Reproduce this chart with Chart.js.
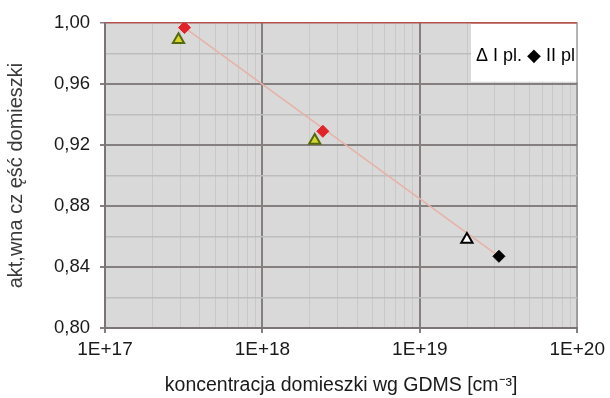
<!DOCTYPE html>
<html>
<head>
<meta charset="utf-8">
<script src="https://cdn.jsdelivr.net/npm/chart.js@4.4.1/dist/chart.umd.min.js"></script>
<style>
  html, body { margin: 0; padding: 0; background: #ffffff; }
  #wrap { width: 610px; height: 398px; }
</style>
</head>
<body>
<div id="wrap"><canvas id="c" width="610" height="398"></canvas></div>
<script>
// Series names (shown in the legend box)
const seriesNames = ['I pl.', 'II pl'];

// Dopant concentration [cm^-3] and active fraction, series I
const concI = [2.93e17, 2.15e18, 1.99e19];
const fracI = [0.989, 0.923, 0.858];

// Dopant concentration [cm^-3] and active fraction, series II
const concII = [3.2e17, 2.42e18, 3.18e19];
const fracII = [0.997, 0.929, 0.847];

// Trend line end points
const trendConc = [3.2e17, 3.18e19];
const trendFrac = [0.997, 0.847];

// Axis ticks
const decadeExps = [17, 18, 19, 20];
const decadeLabels = ['1E+17', '1E+18', '1E+19', '1E+20'];
const yTickValues = [0.80, 0.82, 0.84, 0.86, 0.88, 0.90, 0.92, 0.94, 0.96, 0.98, 1.00];
const yLabelValues = [0.80, 0.84, 0.88, 0.92, 0.96, 1.00];

const xTitle = 'koncentracja domieszki wg GDMS [cm\u207B\u00B3]';
const yTitle = 'akt,wna cz ęść domieszki';

// point styling
const triFill = ['#d6d62a', '#d6d62a', '#ffffff'];
const triEdge = ['#55690f', '#55690f', '#000000'];
const diaColor = ['#e2232a', '#e2232a', '#000000'];

const FONT = "'Liberation Sans', Arial, sans-serif";

const toPts = (xs, ys) => xs.map((x, i) => ({ x: x, y: ys[i] }));

// x tick values: 1..9 x 10^n for each decade, plus the last decade
const xTickValues = [];
decadeExps.forEach((e, i) => {
  if (i < decadeExps.length - 1) {
    for (let m = 1; m <= 9; m++) xTickValues.push(m * Math.pow(10, e));
  } else {
    xTickValues.push(Math.pow(10, e));
  }
});

const isDecade = v => {
  const l = Math.log10(v);
  return Math.abs(l - Math.round(l)) < 1e-6;
};
const decadeLabel = v => {
  if (!isDecade(v)) return '';
  const idx = decadeExps.indexOf(Math.round(Math.log10(v)));
  return idx >= 0 ? decadeLabels[idx] : '';
};
const isYLabel = v => yLabelValues.some(t => Math.abs(t - v) < 1e-6);

const plotBg = {
  id: 'plotBg',
  beforeDraw(chart) {
    const { ctx, chartArea: a } = chart;
    ctx.save();
    ctx.fillStyle = '#d9d9d9';
    ctx.fillRect(a.left, a.top, a.right - a.left, a.bottom - a.top);
    ctx.restore();
  },
  beforeDatasetsDraw(chart) {
    const { ctx, chartArea: a } = chart;
    const yBox = chart.scales.y.getPixelForValue(0.9615);
    const xBox = 471;
    ctx.save();
    ctx.fillStyle = '#ffffff';
    ctx.fillRect(xBox, a.top, a.right - xBox, yBox - a.top);
    // top edge line and right edge line over the box
    ctx.strokeStyle = '#b4534d';
    ctx.lineWidth = 1.5;
    ctx.beginPath();
    ctx.moveTo(xBox, a.top);
    ctx.lineTo(a.right, a.top);
    ctx.stroke();
    ctx.strokeStyle = '#a09c9c';
    ctx.lineWidth = 1;
    ctx.beginPath();
    ctx.moveTo(a.right - 0.5, a.top);
    ctx.lineTo(a.right - 0.5, yBox);
    ctx.stroke();
    // legend text
    ctx.fillStyle = '#000000';
    ctx.font = '18px ' + FONT;
    ctx.textBaseline = 'middle';
    ctx.textAlign = 'left';
    const txt = '\u0394 ' + seriesNames[0] + ' \u25C6 ' + seriesNames[1];
    ctx.fillText(txt, 476, 56, 102);
    ctx.restore();
  }
};

new Chart(document.getElementById('c'), {
  type: 'scatter',
  data: {
    datasets: [
      {
        label: seriesNames[0],
        data: toPts(concI, fracI),
        pointStyle: 'triangle',
        pointRadius: 6.5,
        pointBorderWidth: 2,
        backgroundColor: triFill,
        borderColor: triEdge,
        order: 1
      },
      {
        label: seriesNames[1],
        data: toPts(concII, fracII),
        pointStyle: 'rectRot',
        pointRadius: 6,
        pointBorderWidth: 1,
        backgroundColor: diaColor,
        borderColor: diaColor,
        order: 0
      },
      {
        label: 'trend',
        type: 'line',
        data: toPts(trendConc, trendFrac),
        borderColor: '#e6b2a6',
        borderWidth: 1.5,
        pointRadius: 0,
        fill: false,
        order: 5
      }
    ]
  },
  options: {
    responsive: false,
    animation: false,
    devicePixelRatio: 1,
    layout: { padding: { top: 23, right: 30, left: 0, bottom: 0 } },
    plugins: {
      legend: { display: false },
      tooltip: { enabled: false }
    },
    scales: {
      x: {
        type: 'logarithmic',
        min: 1e17,
        max: 1e20,
        afterBuildTicks: s => { s.ticks = xTickValues.map(v => ({ value: v })); },
        afterFit: s => { s.height = 70; },
        ticks: {
          autoSkip: false,
          maxRotation: 0,
          padding: 5,
          color: '#1a1a1a',
          font: { family: FONT, size: 19 },
          callback: v => decadeLabel(v)
        },
        grid: {
          color: c => {
            const v = c.tick ? c.tick.value : 0;
            if (Math.abs(v - 1e20) / 1e20 < 1e-6) return '#a09c9c';
            return isDecade(v) ? '#857f7f' : '#c9c9c9';
          },
          lineWidth: c => (c.tick && isDecade(c.tick.value) ? 2 : 1),
          tickColor: c => (c.tick && isDecade(c.tick.value) ? '#857f7f' : 'rgba(0,0,0,0)'),
          tickLength: 5,
          drawTicks: true
        },
        border: { color: '#7a7474', width: 2 },
        title: {
          display: true,
          text: xTitle,
          color: '#1a1a1a',
          font: { family: FONT, size: 19.5 },
          padding: { top: 0, bottom: 1 }
        }
      },
      y: {
        min: 0.8,
        max: 1.0,
        afterBuildTicks: s => { s.ticks = yTickValues.map(v => ({ value: v })); },
        afterFit: s => { s.width = 105; },
        ticks: {
          autoSkip: false,
          padding: 10,
          color: '#1a1a1a',
          font: { family: FONT, size: 18.5 },
          callback: v => (isYLabel(v) ? v.toFixed(2).replace('.', ',') : '')
        },
        grid: {
          color: c => {
            const v = c.tick ? c.tick.value : 0;
            if (Math.abs(v - 1.0) < 1e-6) return '#b4534d';
            return isYLabel(v) ? '#857f7f' : '#bdbdbd';
          },
          lineWidth: c => {
            const v = c.tick ? c.tick.value : 0;
            if (Math.abs(v - 1.0) < 1e-6) return 1.5;
            return isYLabel(v) ? 2 : 1.5;
          },
          tickColor: c => (c.tick && isYLabel(c.tick.value) ? '#857f7f' : 'rgba(0,0,0,0)'),
          tickLength: 5,
          drawTicks: true
        },
        border: { color: '#7a7474', width: 2 },
        title: {
          display: true,
          text: yTitle,
          color: '#3a3a3a',
          font: { family: FONT, size: 20 },
          padding: { top: 4, bottom: 0 }
        }
      }
    }
  },
  plugins: [plotBg]
});
</script>
</body>
</html>
